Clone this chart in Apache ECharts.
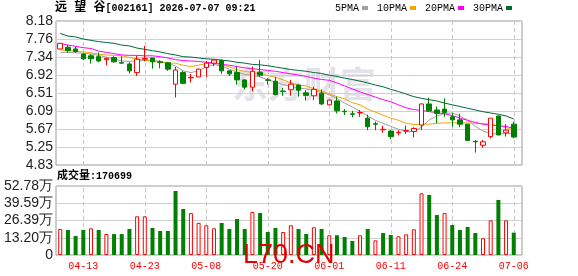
<!DOCTYPE html>
<html><head><meta charset="utf-8">
<script src="https://cdn.jsdelivr.net/npm/echarts@6/dist/echarts.min.js"></script>
<style>html,body{margin:0;padding:0;background:#fff}#c{width:578px;height:276px}</style>
</head><body><div id="c"></div>
<script>
const stockName = '远 望 谷';
const stockCode = '[002161] 2026-07-07 09:21';
const dates = ['04-08','04-09','04-10','04-13','04-14','04-15','04-16','04-17','04-20','04-21','04-22','04-23','04-24','04-27','04-28','04-29','04-30','05-06','05-07','05-08','05-11','05-12','05-13','05-14','05-15','05-18','05-19','05-20','05-21','05-22','05-25','05-26','05-27','05-28','05-29','06-01','06-02','06-03','06-04','06-05','06-08','06-09','06-10','06-11','06-12','06-15','06-16','06-17','06-18','06-22','06-23','06-24','06-25','06-26','06-29','06-30','07-01','07-02','07-03','07-06'];
const tickLabels = ['04-13','04-23','05-08','05-20','06-01','06-11','06-24','07-06'];
const opens  = [7.53,7.57,7.53,7.41,7.37,7.35,7.28,7.33,7.21,7.18,6.98,7.29,7.32,7.23,7.21,6.71,6.98,6.86,6.88,7.10,7.20,7.26,7.02,6.98,6.81,6.64,6.99,6.81,6.78,6.55,6.58,6.69,6.51,6.44,6.50,6.23,6.32,6.08,6.02,6.04,5.92,5.79,5.65,5.62,5.58,5.62,5.61,5.76,6.25,6.11,6.13,5.95,5.88,5.78,5.38,5.29,5.49,5.97,5.58,5.78];
const closes = [7.66,7.49,7.47,7.30,7.30,7.25,7.31,7.23,7.20,7.02,7.29,7.31,7.23,7.22,7.06,7.04,6.73,6.87,7.06,7.20,7.27,7.02,6.95,6.81,6.64,7.01,6.92,6.80,6.47,6.54,6.71,6.57,6.45,6.59,6.25,6.34,6.09,6.07,6.01,6.05,5.72,5.78,5.66,5.49,5.59,5.63,5.68,6.25,6.09,6.03,6.05,5.88,5.78,5.40,5.37,5.37,5.92,5.53,5.64,5.48];
const lows   = [7.52,7.44,7.44,7.27,7.19,7.22,7.15,7.21,7.19,6.96,6.90,7.24,7.07,7.08,7.02,6.40,6.71,6.75,6.88,6.88,7.13,6.95,6.90,6.70,6.59,6.55,6.88,6.70,6.45,6.44,6.44,6.42,6.33,6.34,6.23,6.22,6.03,5.99,5.94,5.95,5.64,5.64,5.58,5.43,5.52,5.55,5.47,5.64,6.07,5.80,5.95,5.72,5.71,5.40,5.12,5.23,5.45,5.52,5.49,5.45];
const highs  = [7.67,7.62,7.58,7.43,7.41,7.45,7.33,7.36,7.36,7.22,7.37,7.60,7.32,7.27,7.22,7.11,7.02,6.95,7.07,7.25,7.29,7.29,7.02,7.12,6.82,7.12,7.27,6.85,6.88,6.62,6.81,6.71,6.57,6.65,6.59,6.35,6.42,6.13,6.09,6.11,6.00,5.84,5.74,5.64,5.64,5.75,5.71,6.26,6.40,6.19,6.38,6.03,6.02,5.78,5.41,5.41,5.92,5.98,5.78,5.84];
const ma5  = [7.45,7.45,7.44,7.43,7.41,7.38,7.34,7.30,7.25,7.24,7.25,7.26,7.26,7.24,7.20,7.13,7.02,6.98,7.02,7.11,7.17,7.13,7.06,6.99,6.94,6.91,6.88,6.81,6.76,6.70,6.66,6.62,6.60,6.56,6.52,6.46,6.38,6.27,6.18,6.08,5.97,5.87,5.80,5.73,5.66,5.61,5.61,5.71,5.88,5.97,6.03,6.04,5.97,5.87,5.73,5.62,5.56,5.55,5.56,5.57];
const ma10 = [7.51,7.49,7.48,7.46,7.44,7.41,7.39,7.38,7.37,7.33,7.30,7.27,7.24,7.22,7.20,7.20,7.15,7.12,7.15,7.19,7.20,7.17,7.11,7.05,7.01,6.98,6.95,6.91,6.87,6.81,6.74,6.69,6.67,6.60,6.55,6.49,6.42,6.37,6.28,6.23,6.13,6.06,5.99,5.92,5.87,5.80,5.77,5.78,5.78,5.80,5.81,5.81,5.81,5.81,5.80,5.79,5.78,5.74,5.70,5.64];
const ma20 = [7.66,7.62,7.59,7.56,7.54,7.48,7.45,7.42,7.39,7.38,7.38,7.37,7.37,7.35,7.32,7.28,7.26,7.25,7.24,7.22,7.20,7.17,7.15,7.12,7.09,7.07,7.05,7.03,7.01,6.98,6.95,6.92,6.89,6.85,6.82,6.80,6.74,6.67,6.60,6.53,6.47,6.41,6.35,6.30,6.23,6.16,6.12,6.10,6.07,6.05,6.02,5.98,5.92,5.87,5.82,5.78,5.76,5.74,5.73,5.68];
const ma30 = [7.89,7.83,7.81,7.76,7.73,7.70,7.68,7.66,7.62,7.60,7.55,7.52,7.49,7.46,7.42,7.39,7.35,7.34,7.32,7.30,7.29,7.27,7.25,7.22,7.20,7.17,7.16,7.14,7.11,7.08,7.05,7.03,7.01,6.98,6.96,6.92,6.89,6.85,6.82,6.78,6.74,6.69,6.65,6.59,6.54,6.48,6.42,6.38,6.35,6.32,6.27,6.23,6.19,6.15,6.11,6.07,6.04,6.01,5.97,5.90];
const volumes = [199000,191000,145000,191000,204000,191000,160600,160000,160000,199000,296000,296000,206500,183600,183600,489500,351900,320000,246000,227000,204000,245000,199000,275000,199000,329000,321000,176000,206500,176000,227000,199000,160600,212000,199000,150700,150700,137700,107000,150700,199000,112000,168000,153000,143000,158000,196600,472000,459000,306000,321000,229500,191000,214000,168000,127700,265000,420700,265000,170699];
const volUp = [1,0,0,0,1,0,1,0,0,0,1,1,0,0,0,0,0,1,1,1,1,0,0,0,0,1,0,0,0,1,1,0,0,1,0,1,0,0,0,1,0,1,0,0,1,1,1,1,0,0,1,0,0,0,0,1,1,0,1,0];
const priceMin = 4.83, priceMax = 8.18, priceStep = 0.41875;
const volMax = 527800, volStep = 131950;

const RED = '#ff0000', GREEN = '#008000';
const chart = echarts.init(document.getElementById('c'), null, {renderer: 'canvas'});
const candleData = dates.map((d, i) => [opens[i], closes[i], lows[i], highs[i]]);
const volData = volumes.map((v, i) => ({
  value: v,
  itemStyle: volUp[i] ? {color: '#fff', borderColor: RED, borderWidth: 1} : {color: GREEN, borderColor: GREEN, borderWidth: 0}
}));
const vLines = {
  symbol: ['none', 'none'], silent: true, z: 1, animation: false,
  label: {show: false},
  lineStyle: {color: '#c8c8c8', type: [4, 3], width: 1},
  data: tickLabels.map(t => ({xAxis: t}))
};
const maLine = (name, data, color) => ({
  name, type: 'line', xAxisIndex: 1, yAxisIndex: 1, data, symbol: 'none',
  lineStyle: {width: 1, color}, itemStyle: {color}, z: 2
});
const mono = '"Liberation Mono", "Noto Sans CJK SC"';
const cjk = '"Liberation Mono", "Noto Sans CJK SC"';
chart.setOption({
  animation: false,
  backgroundColor: '#fff',
  title: [
    {left: 55, top: 2, padding: 0,
     text: '{c|' + stockName + '}{m|' + stockCode + '}',
     textStyle: {rich: {c: {fontFamily: cjk, fontSize: 12, color: '#000'}, m: {fontFamily: mono, fontSize: 10, color: '#000'}}}},
    {left: 57, top: 171, padding: 0,
     text: '{c|成交量}{m|:' + volumes[volumes.length - 1] + '}',
     textStyle: {rich: {c: {fontFamily: cjk, fontSize: 11, color: '#000'}, m: {fontFamily: mono, fontSize: 10, color: '#000'}}}}
  ],
  legend: {
    right: 66, top: 3, padding: 0, align: 'right', icon: 'rect', itemWidth: 6, itemHeight: 4, itemGap: 9,
    textStyle: {fontFamily: mono, fontSize: 10, color: '#000', padding: [0, -2, 0, 0]},
    data: ['5PMA', '10PMA', '20PMA', '30PMA']
  },
  graphic: [
    {type: 'text', left: 232, top: 66, z: 0, silent: true,
     style: {text: '东方财富', font: 'bold 36px "Noto Sans CJK SC"', fill: '#e2e2e8'}},
    {type: 'text', left: 243, top: 242, z: 100, silent: true,
     style: {text: 'L70.CN', font: '27px "Liberation Sans"', fill: '#e00000'}}
  ],
  grid: [
    {left: 56, top: 21, width: 466, height: 144, show: true, borderColor: '#999', borderWidth: 1, backgroundColor: 'transparent'},
    {left: 56.4, top: 21, width: 461.2, height: 144},
    {left: 56, top: 186, width: 466, height: 69, show: true, borderColor: '#999', borderWidth: 1, backgroundColor: 'transparent'},
    {left: 56.4, top: 186, width: 461.2, height: 69}
  ],
  xAxis: [
    {gridIndex: 0, type: 'value', min: 0, max: 1, show: false},
    {gridIndex: 1, type: 'category', data: dates, boundaryGap: true, show: false},
    {gridIndex: 2, type: 'value', min: 0, max: 1, show: false},
    {gridIndex: 3, type: 'category', data: dates, boundaryGap: true,
     axisLine: {show: false}, axisTick: {show: false}, splitLine: {show: false},
     axisLabel: {interval: (i, v) => tickLabels.includes(v), color: RED, fontFamily: mono, fontSize: 10, margin: 6}}
  ],
  yAxis: [
    {gridIndex: 0, type: 'value', min: priceMin, max: priceMax, interval: priceStep,
     axisLine: {show: false}, axisTick: {show: false},
     splitLine: {lineStyle: {color: '#d0d0d0', width: 1}},
     axisLabel: {formatter: v => (Math.round(v * 100 + 1e-6) / 100).toFixed(2), color: '#222', fontFamily: 'Liberation Sans', fontSize: 14, margin: 3}},
    {gridIndex: 1, type: 'value', min: priceMin, max: priceMax, show: false},
    {gridIndex: 2, type: 'value', min: 0, max: volMax, interval: volStep,
     axisLine: {show: false}, axisTick: {show: false},
     splitLine: {lineStyle: {color: '#d0d0d0', width: 1}},
     axisLabel: {formatter: v => v === 0 ? '0' : (Math.round(v / 100 + 1e-6) / 100).toFixed(2) + '万', color: '#222', fontFamily: 'Liberation Sans', fontSize: 14, margin: 3}},
    {gridIndex: 3, type: 'value', min: 0, max: volMax, show: false}
  ],
  series: [
    maLine('5PMA', ma5, '#a0a0a0'),
    maLine('10PMA', ma10, '#f5a500'),
    maLine('20PMA', ma20, '#ff00ff'),
    maLine('30PMA', ma30, '#00693a'),
    {name: 'K', type: 'candlestick', xAxisIndex: 1, yAxisIndex: 1, data: candleData, barWidth: 5, z: 3,
     itemStyle: {color: '#fff', color0: GREEN, borderColor: RED, borderColor0: GREEN, borderWidth: 1},
     markLine: vLines},
    {name: 'VOL', type: 'bar', xAxisIndex: 3, yAxisIndex: 3, data: volData, barWidth: 4, z: 3,
     markLine: vLines}
  ]
});
</script></body></html>
